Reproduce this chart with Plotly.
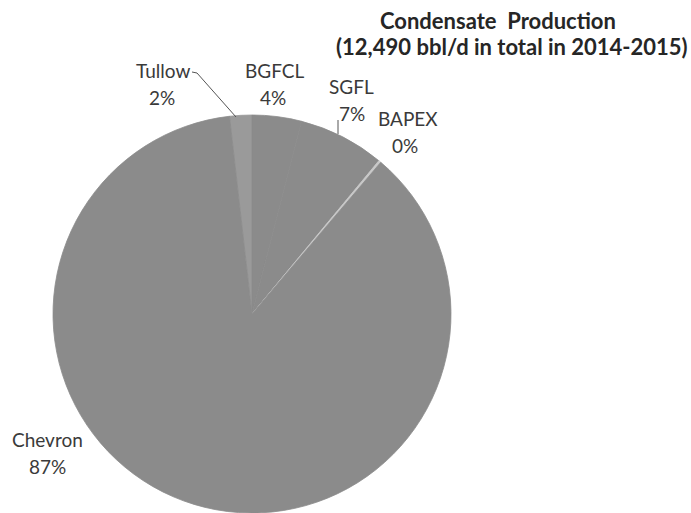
import plotly.graph_objects as go

# ---- data ----
companies = ["Tullow", "BGFCL", "SGFL", "BAPEX", "Chevron"]
production_bbl_d = [225, 500, 874, 25, 10866]   # total 12,490 bbl/d
slice_colors = ["#9a9a9a", "#8b8b8b", "#8b8b8b", "#c8c8c8", "#8b8b8b"]
title_line1 = "Condensate  Production"
title_line2 = "(12,490\u202fbbl/d in total in 2014-2015)"

W, H = 691, 513
total = sum(production_bbl_d)
shares = [v / total * 100 for v in production_bbl_d]
rotation = -360 * production_bbl_d[0] / total

fig = go.Figure(go.Pie(
    labels=companies,
    values=production_bbl_d,
    sort=False,
    direction="clockwise",
    rotation=rotation,
    textinfo="none",
    hoverinfo="label+percent",
    marker=dict(colors=slice_colors, line=dict(width=0.8, color=slice_colors)),
    showlegend=False,
    domain=dict(x=[53 / W, 451 / W], y=[0, 398 / H]),
))

def px(x):
    return x / W

def py(y):
    return 1 - y / H

label_font = dict(family="Lato, Carlito, sans-serif", size=19, color="#3a3a3a")
# label positions (name center, pct center) in pixels
label_pos = {
    "Tullow": ((163, 70), (162, 97)),
    "BGFCL": ((274, 70), (273, 97)),
    "SGFL": ((351, 86), (352, 113)),
    "BAPEX": ((408, 118), (405, 145)),
    "Chevron": ((47, 439), (47, 466)),
}
for name, share in zip(companies, shares):
    (nx, ny), (qx, qy) = label_pos[name]
    fig.add_annotation(x=px(nx), y=py(ny), xref="paper", yref="paper",
                       text=name, showarrow=False, font=label_font,
                       xanchor="center", yanchor="middle")
    fig.add_annotation(x=px(qx), y=py(qy), xref="paper", yref="paper",
                       text=f"{round(share)}%", showarrow=False, font=label_font,
                       xanchor="center", yanchor="middle")

title_font = dict(family="Lato, Carlito, sans-serif", size=22, color="#262626")
fig.add_annotation(x=px(498), y=py(20), xref="paper", yref="paper",
                   text=f"<b>{title_line1}</b>", showarrow=False, font=title_font,
                   xanchor="center", yanchor="middle")
fig.add_annotation(x=px(512), y=py(47), xref="paper", yref="paper",
                   text=f"<b>{title_line2}</b>", showarrow=False, font=title_font,
                   xanchor="center", yanchor="middle")

# leader lines
line_style = dict(color="#555555", width=1)
fig.add_shape(type="path", xref="paper", yref="paper",
              path=f"M {px(192)} {py(72)} L {px(197)} {py(73)} L {px(236)} {py(117)}",
              line=line_style)
fig.add_shape(type="line", xref="paper", yref="paper",
              x0=px(338), y0=py(120), x1=px(338), y1=py(134), line=line_style)

fig.update_layout(
    width=W, height=H,
    margin=dict(l=0, r=0, t=0, b=0),
    paper_bgcolor="white",
    plot_bgcolor="white",
)

fig.write_html("out.html")
